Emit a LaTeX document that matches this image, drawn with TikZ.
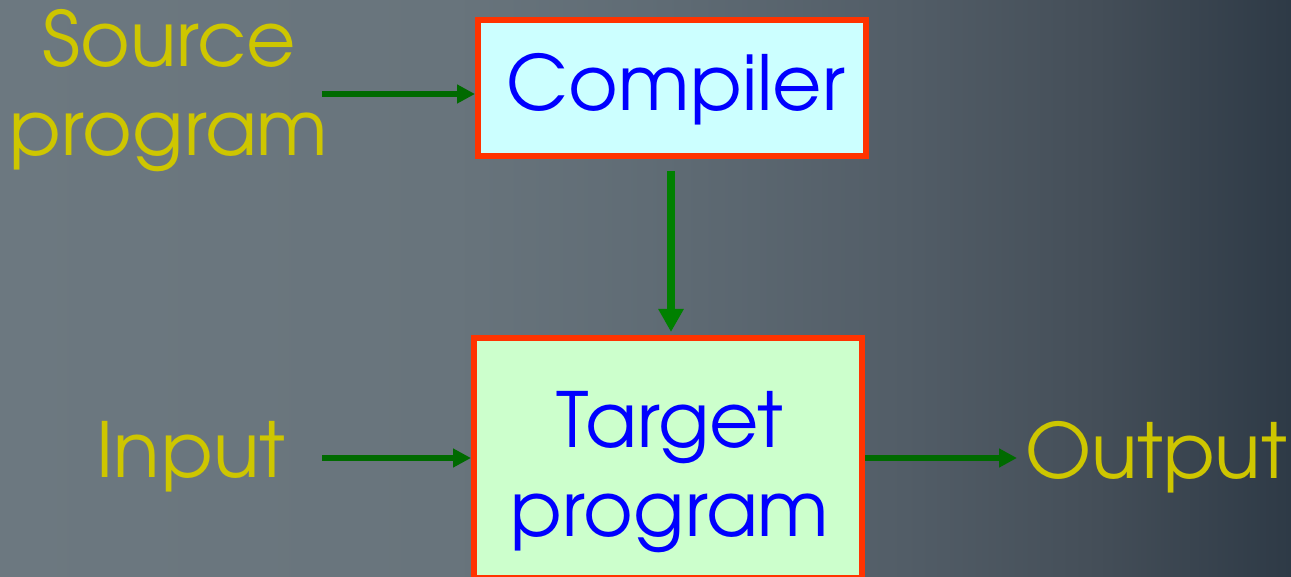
\documentclass[tikz,border=0pt]{standalone}
\usepackage{fontspec}
\setmainfont{texgyreadventor-regular.otf}
\usetikzlibrary{arrows.meta}

\definecolor{lblyellow}{RGB}{206,198,0}
\definecolor{txtblue}{RGB}{0,0,255}
\definecolor{frameorange}{RGB}{255,51,0}
\definecolor{cmpfill}{RGB}{204,255,255}
\definecolor{tgtfill}{RGB}{204,255,204}
\definecolor{flowgreen}{RGB}{0,106,0}
\definecolor{feedgreen}{RGB}{0,128,0}

% slide background, lighter on the left and darker on the right
% (a shaded path covers the middle half of the declared 100bp range)
\pgfdeclarehorizontalshading{slidebg}{100bp}{%
  rgb(0bp)=(0.424,0.471,0.502);
  rgb(25bp)=(0.424,0.471,0.502);
  rgb(42.5bp)=(0.408,0.455,0.486);
  rgb(50bp)=(0.376,0.424,0.459);
  rgb(60bp)=(0.322,0.365,0.404);
  rgb(67.5bp)=(0.267,0.306,0.345);
  rgb(75bp)=(0.180,0.227,0.275);
  rgb(100bp)=(0.180,0.227,0.275)}

\tikzset{
  bigtext/.style={font=\fontsize{76}{89}\selectfont, align=center, inner sep=0pt},
  sidelabel/.style={bigtext, text=lblyellow},
  stagebox/.style={draw=frameorange, line width=6pt, minimum width=388pt},
  boxtext/.style={bigtext, text=txtblue},
  flow/.style={draw=flowgreen, line width=6pt,
    -{Triangle[length=18pt,width=18pt]}},
  feed/.style={draw=feedgreen, line width=8pt, shorten >=3pt,
    -{Triangle[length=23pt,width=24pt]}},
}

\begin{document}
\begin{tikzpicture}[x=1pt,y=-1pt]
  \useasboundingbox (0,0) rectangle (1291,577);
  \clip (0,0) rectangle (1291,577);
  \shade[shading=slidebg] (0,0) rectangle (1291,577);

  % stages
  \node[stagebox, fill=cmpfill, minimum height=136pt] (cmp) at (672,88) {};
  \node[boxtext] (cmptext) at (676,89) {Compiler};
  \node[stagebox, fill=tgtfill, minimum height=240pt] (tgt) at (668,458) {};
  \node[boxtext] (tgttext) at (670,472) {Target\\program};

  % inputs and outputs
  \node[sidelabel] (src) at (169,91) {Source\\program};
  \node[sidelabel] (inp) at (191,457) {Input};
  \node[sidelabel] (out) at (1156,457) {Output};

  % free ends of the connectors
  \coordinate (srcend) at (322,94);
  \coordinate (inpend) at (322,458);
  \coordinate (outend) at (1017,458);
  \coordinate (cmpout) at (671,171);

  \draw[flow] (srcend) -- (srcend -| cmp.west);
  \draw[feed] (cmpout) -- (cmpout |- tgt.north);
  \draw[flow] (inpend) -- (inpend -| tgt.west);
  \draw[flow] (outend -| tgt.east) -- (outend);
\end{tikzpicture}
\end{document}
